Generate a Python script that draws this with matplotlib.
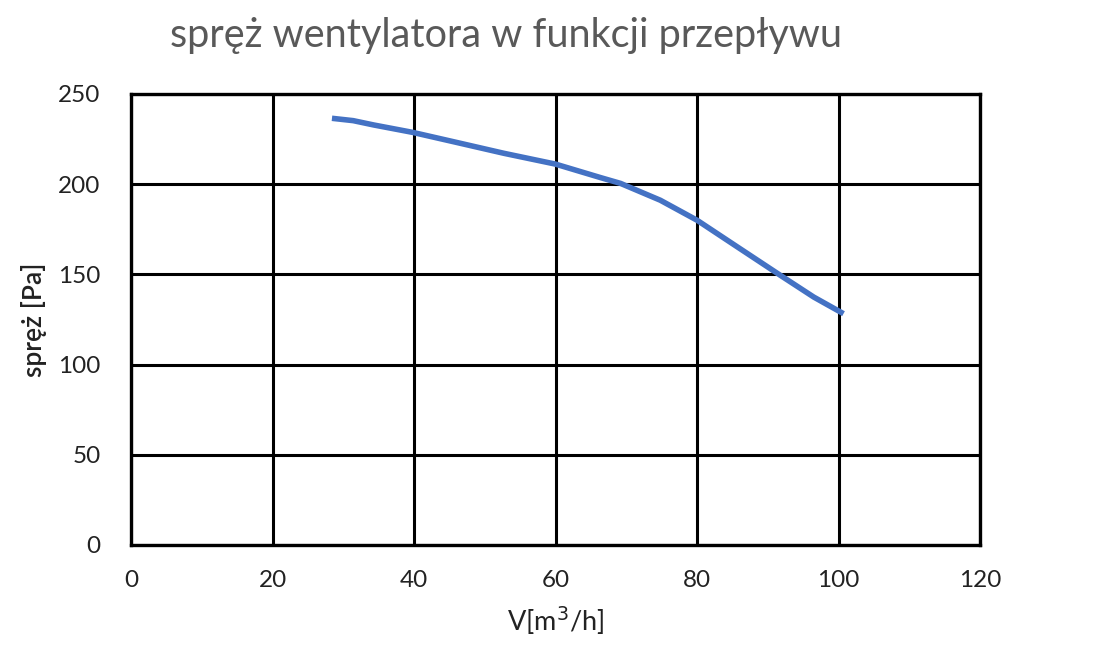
import numpy as np
import matplotlib.pyplot as plt

flow = [28.4, 31.4, 34.3, 39.8, 45.6, 52.7, 60.0, 66.3, 69.2, 74.8,
        80.0, 85.7, 91.8, 96.5, 100.7]
pressure = [236.5, 235.2, 232.8, 228.7, 223.5, 217.1, 211.1, 203.7, 200.4, 191.1,
            180.0, 165.2, 149.4, 137.4, 128.2]
xticks = [0, 20, 40, 60, 80, 100, 120]
yticks = [0, 50, 100, 150, 200, 250]

plt.rcParams['font.family'] = ['Lato', 'DejaVu Sans']

fig = plt.figure(figsize=(11.17, 6.71), dpi=100)
ax = fig.add_axes([0.1173, 0.1878, 0.7601, 0.6722])

ax.plot(flow, pressure, color="#4472C4", lw=4.0, solid_joinstyle="round",
        solid_capstyle="butt", zorder=3)

ax.set_xlim(0, 120)
ax.set_ylim(0, 250)
ax.set_xticks(xticks)
ax.set_yticks(yticks)
ax.grid(True, color="black", lw=2.2)
ax.set_axisbelow(True)
for s in ax.spines.values():
    s.set_linewidth(2.4)
    s.set_color("black")
ax.tick_params(length=0, labelsize=17.5, labelcolor="#222222")
ax.tick_params(axis="y", pad=22)
ax.tick_params(axis="x", pad=18)

ax.set_xlabel("V[m$^3$/h]", fontsize=19.5, color="#222222", labelpad=10)
ax.set_ylabel("spręż [Pa]", fontsize=19, fontweight="semibold", color="#222222", labelpad=8)
fig.suptitle("spręż wentylatora w funkcji przepływu", fontsize=28.5, color="#595959",
             x=0.453, y=0.975)

fig.savefig("out.png", dpi=100)
